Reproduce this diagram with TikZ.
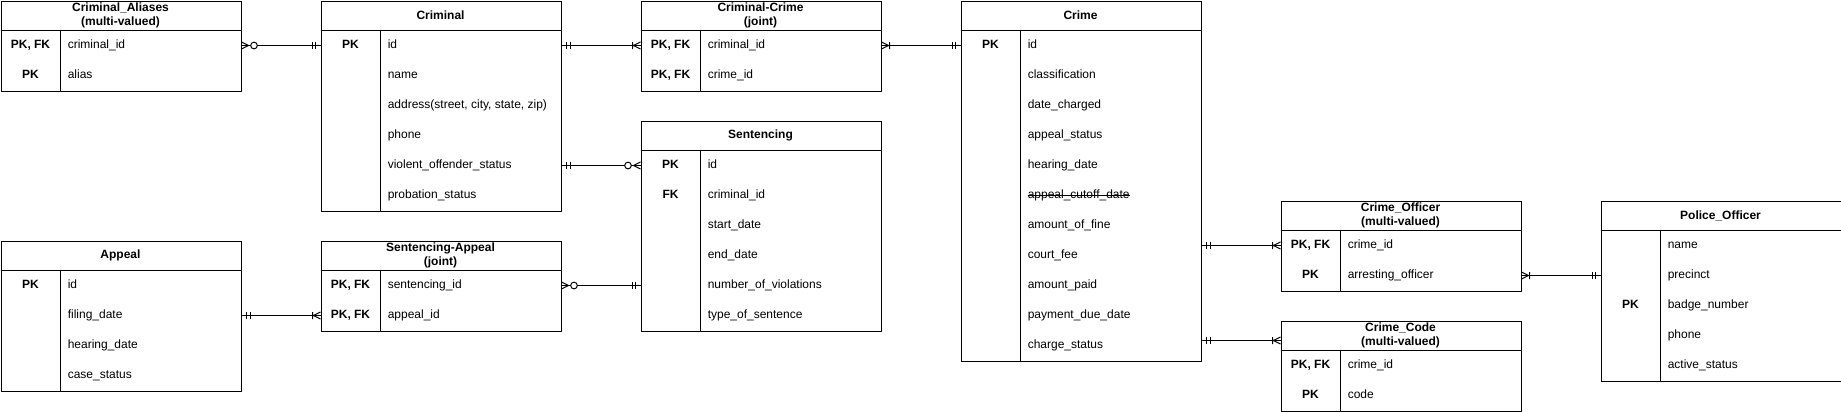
\documentclass[tikz,border=0pt]{standalone}
\usepackage{fontspec}
\setmainfont{Liberation Sans}
\usetikzlibrary{decorations.markings}
\newcommand\erstrike[1]{\setbox0\hbox{#1}\rlap{\raisebox{2.3pt}{\rule{\wd0}{0.6pt}}}\box0}
\tikzset{
  x=0.75pt, y=-0.75pt,
  erbox/.style={draw, line width=0.75pt, fill=white, anchor=north west, inner sep=0pt, minimum width=180pt},
  erline/.style={line width=0.75pt},
  erhead/.style={font=\fontsize{9pt}{10.8pt}\selectfont\bfseries, align=center, inner sep=0pt},
  erkey/.style={font=\fontsize{9pt}{10.8pt}\selectfont\bfseries, inner sep=0pt, text height=6.5pt, text depth=1.9pt},
  erfld/.style={font=\fontsize{9pt}{10.8pt}\selectfont, anchor=west, inner sep=0pt, text height=6.5pt, text depth=1.9pt},
  rel/.style={draw, line width=0.75pt},
  mk/.style={line width=0.75pt},
  one at start/.style={postaction={decorate,decoration={markings,mark=at position 0 with {\draw[mk] (5,-3.5)--(5,3.5) (8.5,-3.5)--(8.5,3.5);}}}},
  one at end/.style={postaction={decorate,decoration={markings,mark=at position 1 with {\draw[mk] (-5,-3.5)--(-5,3.5) (-8.5,-3.5)--(-8.5,3.5);}}}},
  many at start/.style={postaction={decorate,decoration={markings,mark=at position 0 with {\draw[mk] (0,3.5)--(7,0)--(0,-3.5) (8,-3.5)--(8,3.5);}}}},
  many at end/.style={postaction={decorate,decoration={markings,mark=at position 1 with {\draw[mk] (0,3.5)--(-7,0)--(0,-3.5) (-8,-3.5)--(-8,3.5);}}}},
  zmany at start/.style={postaction={decorate,decoration={markings,mark=at position 0 with {\draw[mk] (0,3.5)--(7,0)--(0,-3.5); \draw[mk,fill=white] (12.5,0) circle[radius=2.5pt];}}}},
  zmany at end/.style={postaction={decorate,decoration={markings,mark=at position 1 with {\draw[mk] (0,3.5)--(-7,0)--(0,-3.5); \draw[mk,fill=white] (-12.5,0) circle[radius=2.5pt];}}}},
}
% #1 name, #2 x, #3 y, #4 title, #5 number of rows, #6 key/field list
\newcommand\ertable[6]{%
  \pgfmathsetmacro\erh{30*(#5+1)*0.75}%
  \node[erbox, minimum height=\erh pt] (#1) at (#2,#3) {};
  \node[erhead] (#1-t) at ([shift={(120,15)}]#1.north west) {#4};
  \draw[erline] ([shift={(0,30)}]#1.north west) -- ([shift={(0,30)}]#1.north east);
  \draw[erline] ([shift={(60,30)}]#1.north west) -- ([shift={(60,0)}]#1.south west);
  \foreach \k/\t [count=\i] in {#6} {
    \node[erkey] (#1-k\i) at ([shift={(30,15+30*\i)}]#1.north west) {\k};
    \node[erfld] (#1-\i) at ([shift={(67,15+30*\i)}]#1.north west) {\t};
  }
}
\begin{document}
\begin{tikzpicture}
\useasboundingbox[fill=white] (-0.5,-0.5) rectangle (1840.5,410.5);

\ertable{aliases}{0}{0}{Criminal\_Aliases\\(multi-valued)}{2}{{PK, FK}/criminal\_id, PK/alias}
\ertable{crim}{320}{0}{Criminal}{6}{PK/id, /name, /{address(street, city, state, zip)}, /phone, /violent\_offender\_status, /probation\_status}
\ertable{cc}{640}{0}{Criminal-Crime\\(joint)}{2}{{PK, FK}/criminal\_id, {PK, FK}/crime\_id}
\ertable{crime}{960}{0}{Crime}{11}{PK/id, /classification, /date\_charged, /appeal\_status, /hearing\_date, /\erstrike{appeal\_cutoff\_date}, /amount\_of\_fine, /court\_fee, /amount\_paid, /payment\_due\_date, /charge\_status}
\ertable{sent}{640}{120}{Sentencing}{6}{PK/id, FK/criminal\_id, /start\_date, /end\_date, /number\_of\_violations, /type\_of\_sentence}
\ertable{appeal}{0}{240}{Appeal}{4}{PK/id, /filing\_date, /hearing\_date, /case\_status}
\ertable{sa}{320}{240}{Sentencing-Appeal\\(joint)}{2}{{PK, FK}/sentencing\_id, {PK, FK}/appeal\_id}
\ertable{co}{1280}{200}{Crime\_Officer\\(multi-valued)}{2}{{PK, FK}/crime\_id, PK/arresting\_officer}
\ertable{ccode}{1280}{320}{Crime\_Code\\(multi-valued)}{2}{{PK, FK}/crime\_id, PK/code}
\ertable{po}{1600}{200}{Police\_Officer}{5}{/name, /precinct, PK/badge\_number, /phone, /active\_status}

\coordinate (ccin) at ([shift={(0,20)}]ccode.north west);

\draw[rel, zmany at start, one at end] (aliases-1.west -| aliases.east) -- (crim-1.west -| crim.west);
\draw[rel, one at start, many at end] (crim-1.west -| crim.east) -- (cc-1.west -| cc.west);
\draw[rel, many at start, one at end] (cc-1.west -| cc.east) -- (crime-1.west -| crime.west);
\draw[rel, one at start, zmany at end] (crim-5.west -| crim.east) -- (sent-1.west -| sent.west);
\draw[rel, one at start, many at end] (appeal-2.west -| appeal.east) -- (sa-2.west -| sa.west);
\draw[rel, zmany at start, one at end] (sa-1.west -| sa.east) -- (sent-5.west -| sent.west);
\draw[rel, one at start, many at end] (co-1.west -| crime.east) -- (co-1.west -| co.west);
\draw[rel, one at start, many at end] (ccin -| crime.east) -- (ccin);
\draw[rel, many at start, one at end] (co-2.west -| co.east) -- (po-2.west -| po.west);
\end{tikzpicture}
\end{document}
